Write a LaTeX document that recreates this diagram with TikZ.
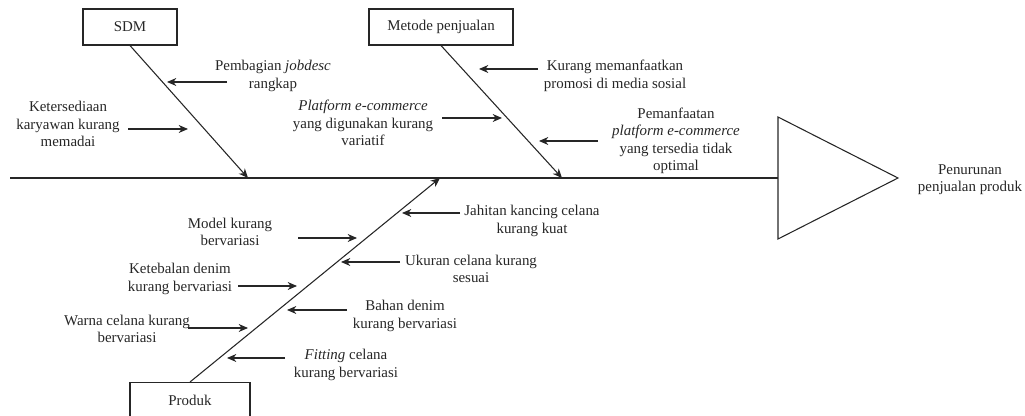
\documentclass[tikz,border=0pt]{standalone}
\usepackage{fontspec}
\setmainfont{Liberation Serif}
\usetikzlibrary{arrows.meta}
\begin{document}
\begin{tikzpicture}[x=0.75pt,y=-0.75pt,
  line/.style={draw=black!85,line width=0.8pt},
  arr/.style={line,-{Stealth[length=7pt,width=6pt]}},
  lbl/.style={align=center,inner sep=0pt,font=\fontsize{11.2}{13}\selectfont,text=black!85},
  catbox/.style={draw=black!85,line width=0.8pt,fill=white,inner sep=0pt,font=\fontsize{11.2}{13}\selectfont,text=black!85}]
\useasboundingbox (0,0) rectangle (1025,416);
% spine and head
\coordinate (sl) at (10,178);
\coordinate (sr) at (778,178);
\coordinate (ht) at (778,117);
\coordinate (hp) at (898,178);
\coordinate (hb) at (778,239);
\draw[line] (sl) -- (sr);
\draw[line] (ht) -- (hp) -- (hb) -- cycle;
\node[lbl] (effect) at (970,180) {Penurunan\\penjualan produk};
% category boxes
\node[catbox,minimum width=70.5pt,minimum height=27pt] (sdm) at (130,27) {SDM};
\node[catbox,minimum width=108pt,minimum height=27pt] (met) at (441,27) {Metode penjualan};
\node[catbox,minimum width=90pt,minimum height=30pt,anchor=north] (pro) at (190,382) {};
\node[lbl] (prot) at (190,400) {Produk};
% bones
\coordinate (bs) at (248,178);
\coordinate (bm) at (562,178);
\coordinate (bp) at (440,178);
\draw[arr] (sdm.south) -- (bs);
\draw[arr] (met.south) -- (bm);
\draw[arr] (pro.north) -- (bp);
% SDM causes
\node[lbl] (t1) at (273,76) {Pembagian \textit{jobdesc}\\rangkap};
\coordinate (a1s) at (227,82); \coordinate (a1e) at (167,82);
\draw[arr] (a1s) -- (a1e);
\node[lbl] (t2) at (68,124) {Ketersediaan\\karyawan kurang\\memadai};
\coordinate (a2s) at (128,129); \coordinate (a2e) at (188,129);
\draw[arr] (a2s) -- (a2e);
% Metode causes
\node[lbl] (t3) at (615,76) {Kurang memanfaatkan\\promosi di media sosial};
\coordinate (a3s) at (538,69); \coordinate (a3e) at (479,69);
\draw[arr] (a3s) -- (a3e);
\node[lbl] (t4) at (363,123) {\textit{Platform e-commerce}\\yang digunakan kurang\\variatif};
\coordinate (a4s) at (442,118); \coordinate (a4e) at (502,118);
\draw[arr] (a4s) -- (a4e);
\node[lbl] (t5) at (676,141) {Pemanfaatan\\\textit{platform e-commerce}\\yang tersedia tidak\\optimal};
\coordinate (a5s) at (598,141); \coordinate (a5e) at (539,141);
\draw[arr] (a5s) -- (a5e);
% Produk causes
\node[lbl] (t6) at (532,221) {Jahitan kancing celana\\kurang kuat};
\coordinate (a6s) at (460,213); \coordinate (a6e) at (402,213);
\draw[arr] (a6s) -- (a6e);
\node[lbl] (t7) at (230,232) {Model kurang\\bervariasi};
\coordinate (a7s) at (298,238); \coordinate (a7e) at (357,238);
\draw[arr] (a7s) -- (a7e);
\node[lbl] (t8) at (471,269) {Ukuran celana kurang\\sesuai};
\coordinate (a8s) at (400,262); \coordinate (a8e) at (341,262);
\draw[arr] (a8s) -- (a8e);
\node[lbl] (t9) at (180,279) {Ketebalan denim\\kurang bervariasi};
\coordinate (a9s) at (238,286); \coordinate (a9e) at (297,286);
\draw[arr] (a9s) -- (a9e);
\node[lbl] (t10) at (405,316) {Bahan denim\\kurang bervariasi};
\coordinate (a10s) at (347,310); \coordinate (a10e) at (287,310);
\draw[arr] (a10s) -- (a10e);
\node[lbl] (t11) at (127,329) {Warna celana kurang\\bervariasi};
\coordinate (a11s) at (188,328); \coordinate (a11e) at (248,328);
\draw[arr] (a11s) -- (a11e);
\node[lbl] (t12) at (346,365) {\textit{Fitting} celana\\kurang bervariasi};
\coordinate (a12s) at (285,358); \coordinate (a12e) at (227,358);
\draw[arr] (a12s) -- (a12e);
\end{tikzpicture}
\end{document}
